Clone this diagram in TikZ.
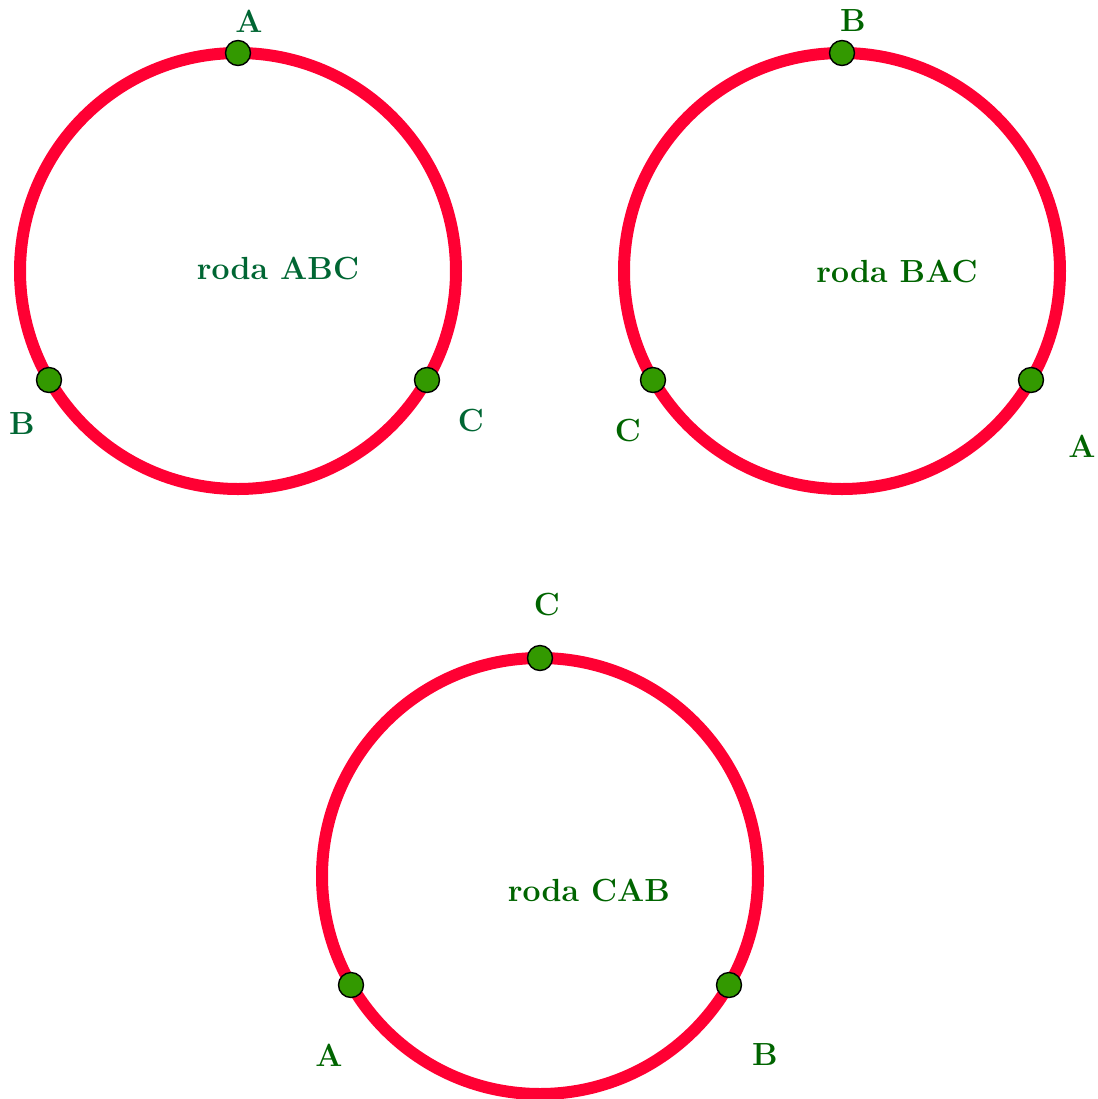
\documentclass[tikz,border=0pt]{standalone}
\definecolor{ringred}{RGB}{255,0,51}
\definecolor{dotgreen}{RGB}{51,153,0}
\definecolor{labA}{RGB}{0,102,51}
\definecolor{labB}{RGB}{0,100,0}
\begin{document}
\begin{tikzpicture}[x=0.5pt,y=-0.5pt,
  ring/.style={draw=ringred,line width=6pt},
  pt/.style={circle,draw=black,line width=0.7pt,fill=dotgreen,minimum size=12.5pt,inner sep=0pt},
  lab/.style={font=\fontsize{16}{19}\selectfont\bfseries,inner sep=0pt},
  labone/.style={lab,text=labA},
  labtwo/.style={lab,text=labB}]
\useasboundingbox (0,0) rectangle (1098,1099);
% circle 1
\draw[ring] (238,271) circle[radius=218];
\node[pt] (p1a) at (238,53) {};
\node[pt] (p1b) at (49,380) {};
\node[pt] (p1c) at (427,380) {};
\node[labone] (l1a) at (249,21) {A};
\node[labone] (l1b) at (22,424) {B};
\node[labone] (l1c) at (471,421) {C};
\node[labone] (t1) at (278,268) {roda ABC};
% circle 2
\draw[ring] (842,271) circle[radius=218];
\node[pt] (p2b) at (842,53) {};
\node[pt] (p2c) at (653,380) {};
\node[pt] (p2a) at (1031,380) {};
\node[labtwo] (l2b) at (853,21) {B};
\node[labtwo] (l2c) at (628,431) {C};
\node[labtwo] (l2a) at (1082,446) {A};
\node[labtwo] (t2) at (897,271) {roda BAC};
% circle 3
\draw[ring] (540,876) circle[radius=218];
\node[pt] (p3c) at (540,658) {};
\node[pt] (p3a) at (351,985) {};
\node[pt] (p3b) at (729,985) {};
\node[labtwo] (l3c) at (547,605) {C};
\node[labtwo] (l3a) at (329,1055) {A};
\node[labtwo] (l3b) at (765,1055) {B};
\node[labtwo] (t3) at (589,890) {roda CAB};
\end{tikzpicture}
\end{document}
